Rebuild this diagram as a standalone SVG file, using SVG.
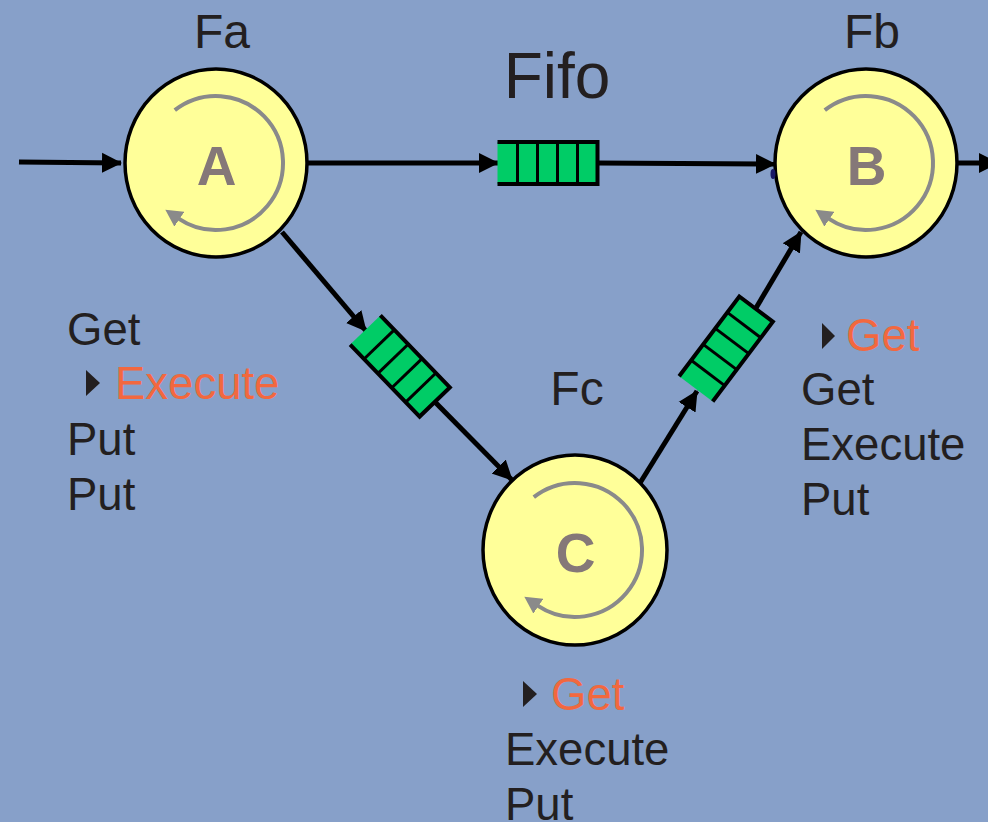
<svg xmlns="http://www.w3.org/2000/svg" width="988" height="822" viewBox="0 0 988 822">
  <style>
    .node { fill: #FFFF99; stroke: #000; stroke-width: 3.5; }
    .loop { fill: none; stroke: #8A8A8A; stroke-width: 4; marker-end: url(#loopHead); }
    .letter { font-family: "Liberation Sans", Arial, sans-serif; font-weight: bold; font-size: 55px; fill: #857878; text-anchor: middle; }
    .label { font-family: "Liberation Sans", Arial, sans-serif; font-size: 48px; fill: #231F20; text-anchor: middle; }
    .title { font-family: "Liberation Sans", Arial, sans-serif; font-size: 64px; fill: #231F20; text-anchor: middle; }
    .step { font-family: "Liberation Sans", Arial, sans-serif; font-size: 45.5px; fill: #231F20; }
    .active { fill: #F2683F; }
    .bullet { fill: #231F20; }
    .wire { fill: none; stroke: #000; stroke-width: 5; }
    .wire.arrow { marker-end: url(#head); }
    .qbody { fill: #00CC66; }
    .qedge { fill: none; stroke: #000; stroke-width: 4; }
    .qcell { stroke: #000; stroke-width: 3; }
  </style>
  <defs>
    <marker id="head" markerUnits="userSpaceOnUse" markerWidth="20" markerHeight="22" viewBox="0 0 20 22" refX="19" refY="11" orient="auto">
      <path d="M0,1 L20,11 L0,21 Z" fill="#000"/>
    </marker>
    <marker id="loopHead" markerUnits="userSpaceOnUse" markerWidth="17" markerHeight="18" viewBox="0 0 17 18" refX="1" refY="9" orient="auto">
      <path d="M0,0 L17,9 L0,18 Z" fill="#8A8A8A"/>
    </marker>
    <!-- FIFO queue: open at the input end, five cells -->
    <g id="fifo">
      <rect class="qbody" x="-50" y="-21" width="100" height="42"/>
      <path class="qedge" d="M-50,-21 H50 V21 H-50"/>
      <line class="qcell" x1="-30" y1="-21" x2="-30" y2="21"/>
      <line class="qcell" x1="-10" y1="-21" x2="-10" y2="21"/>
      <line class="qcell" x1="10" y1="-21" x2="10" y2="21"/>
      <line class="qcell" x1="30" y1="-21" x2="30" y2="21"/>
    </g>
  </defs>

  <rect width="988" height="822" fill="#87A0C9"/>

  <!-- connectors -->
  <g id="connectors">
    <line class="wire arrow" x1="19" y1="162" x2="121" y2="163"/>
    <line class="wire arrow" x1="307" y1="163" x2="498" y2="163"/>
    <line class="wire arrow" x1="597" y1="163" x2="775" y2="164"/>
    <line class="wire arrow" x1="958" y1="163" x2="998" y2="163"/>
    <line class="wire arrow" x1="282" y1="232" x2="366" y2="331"/>
    <line class="wire arrow" x1="434" y1="401" x2="512" y2="480"/>
    <line class="wire arrow" x1="640" y1="483" x2="697" y2="391"/>
    <line class="wire arrow" x1="756" y1="308" x2="801" y2="232"/>
  </g>

  <!-- queues -->
  <g id="queue-ab">
    <use href="#fifo" transform="translate(547.5,163)"/>
    <text class="title" x="557" y="98">Fifo</text>
  </g>
  <g id="queue-ac">
    <use href="#fifo" transform="translate(400,366) rotate(46)"/>
  </g>
  <g id="queue-cb">
    <use href="#fifo" transform="translate(726,349) rotate(-53)"/>
  </g>

  <!-- node A -->
  <g id="node-a">
    <ellipse class="node" cx="216" cy="163" rx="91" ry="94"/>
    <path class="loop" d="M174.8,110.2 A67,67 0 1 1 178.6,218.6"/>
    <text class="letter" x="216.5" y="185">A</text>
    <text class="label" x="222" y="48">Fa</text>
    <text class="step" x="67" y="345">Get</text>
    <polygon class="bullet" points="86,370 100,383 86,396"/>
    <text class="step active" x="115" y="399">Execute</text>
    <text class="step" x="67" y="455">Put</text>
    <text class="step" x="67" y="510">Put</text>
  </g>

  <!-- node B -->
  <g id="node-b">
    <ellipse class="node" cx="866" cy="163" rx="91" ry="94"/>
    <ellipse cx="773" cy="174" rx="2.5" ry="5" fill="#1A1A66"/>
    <path class="loop" d="M824.8,110.2 A67,67 0 1 1 828.6,218.6"/>
    <text class="letter" x="866.5" y="185">B</text>
    <text class="label" x="872" y="48">Fb</text>
    <polygon class="bullet" points="822,323 835,336 822,349"/>
    <text class="step active" x="846" y="351">Get</text>
    <text class="step" x="801" y="405">Get</text>
    <text class="step" x="801" y="460">Execute</text>
    <text class="step" x="801" y="515">Put</text>
  </g>

  <!-- node C -->
  <g id="node-c">
    <ellipse class="node" cx="575" cy="550" rx="92" ry="95"/>
    <path class="loop" d="M533.8,497.2 A67,67 0 1 1 537.6,605.6"/>
    <text class="letter" x="575.5" y="572">C</text>
    <text class="label" x="577" y="405">Fc</text>
    <polygon class="bullet" points="523,681 537,694 523,707"/>
    <text class="step active" x="551" y="710">Get</text>
    <text class="step" x="505" y="765">Execute</text>
    <text class="step" x="505" y="820">Put</text>
  </g>
</svg>
